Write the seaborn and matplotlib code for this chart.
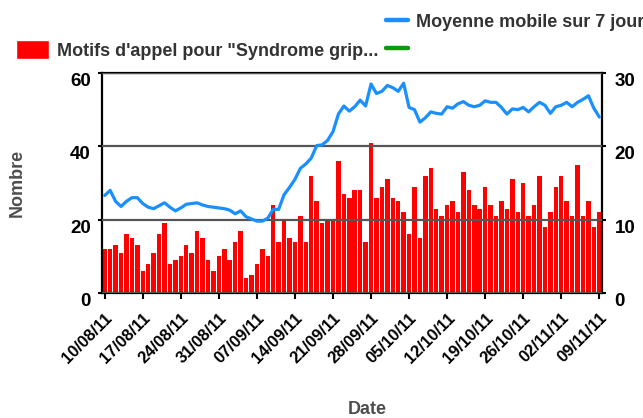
import pandas as pd
import seaborn as sns
import matplotlib.pyplot as plt
from matplotlib.patches import Patch
from matplotlib.lines import Line2D

# Donnees journalieres du 10/08/11 au 09/11/11
motifs = [12, 12, 13, 11, 16, 15, 13, 6, 8, 11,
          16, 19, 8, 9, 10, 13, 11, 17, 15, 9,
          6, 10, 12, 9, 14, 17, 4, 5, 8, 12,
          10, 24, 14, 20, 15, 14, 21, 14, 32, 25,
          19, 20, 20, 36, 27, 26, 28, 28, 14, 41,
          26, 29, 31, 26, 25, 22, 16, 29, 15, 32,
          34, 23, 21, 24, 25, 22, 33, 28, 24, 23,
          29, 24, 21, 25, 23, 31, 22, 30, 21, 24,
          32, 18, 22, 29, 32, 25, 21, 35, 21, 25,
          18, 22]

moyenne_7j = [13.3, 14.0, 12.5, 11.8, 12.5, 13.0, 13.0, 12.2, 11.7, 11.5,
              11.9, 12.3, 11.7, 11.2, 11.6, 12.1, 12.2, 12.3, 12.0, 11.8,
              11.7, 11.6, 11.5, 11.3, 10.8, 11.2, 10.4, 10.1, 9.8, 9.8,
              10.2, 11.4, 11.4, 13.4, 14.4, 15.5, 17.0, 17.6, 18.4, 20.1,
              20.2, 20.8, 22.0, 24.4, 25.5, 24.8, 25.4, 26.3, 25.5, 28.5,
              27.2, 27.5, 28.3, 28.0, 27.5, 28.6, 25.3, 25.0, 23.3, 23.9,
              24.7, 24.5, 24.4, 25.4, 25.2, 25.8, 26.1, 25.6, 25.4, 25.6,
              26.2, 26.0, 26.0, 25.3, 24.4, 25.1, 25.0, 25.3, 24.7, 25.4,
              26.0, 25.6, 24.5, 25.4, 25.6, 26.0, 25.4, 26.0, 26.4, 26.9,
              25.2, 24.0]

jours = pd.date_range('2011-08-10', periods=len(motifs), freq='D')
df = pd.DataFrame({'Date': jours.strftime('%d/%m/%y'),
                   'pos': range(len(motifs)),
                   'Nombre': motifs,
                   'Moyenne': moyenne_7j})

sns.set_style('white')
plt.rcParams['font.family'] = ['Liberation Sans', 'DejaVu Sans']
plt.rcParams['font.weight'] = 'bold'
plt.rcParams['axes.labelweight'] = 'bold'

ROUGE = '#ff0000'
BLEU = '#1a8fff'
VERT = '#0a9a0a'

fig = plt.figure(figsize=(6.43, 4.18), dpi=100)
ax = fig.add_axes([102 / 643, 1 - 293 / 418, 500 / 643, 220 / 418])

sns.barplot(data=df, x='Date', y='Nombre', color=ROUGE, saturation=1,
            width=0.82, linewidth=0, errorbar=None, ax=ax)

ax2 = ax.twinx()
sns.lineplot(data=df, x='pos', y='Moyenne', color=BLEU, lw=2.3, ax=ax2)

ax.set_xlim(-0.5, len(motifs) - 0.5)
ax.set_ylim(0, 60)
ax2.set_ylim(0, 30)
ax.set_yticks([0, 20, 40, 60])
ax2.set_yticks([0, 10, 20, 30])

semaines = list(range(0, len(motifs), 7))
ax.set_xticks(semaines)
ax.set_xticklabels(df['Date'].iloc[semaines], rotation=45, ha='right',
                   rotation_mode='anchor', fontsize=12)

# grille par dessus les barres
ax.set_axisbelow(False)
ax.yaxis.grid(True, color='#555555', lw=1.6)
ax.xaxis.grid(False)

for s in ax.spines.values():
    s.set_color('black')
    s.set_linewidth(1.6)
for s in ax2.spines.values():
    s.set_visible(False)

ax.tick_params(axis='x', bottom=True, length=4, width=1.5, pad=8.5, colors='black')
ax.tick_params(axis='y', left=True, length=3, width=1.5, pad=5, labelsize=13.5, colors='black')
ax2.tick_params(axis='y', right=True, length=3, width=1.5, pad=6, labelsize=13.5, colors='black')

ax.set_xlabel('Date', fontsize=13, color='#4d4d4d')
ax.set_ylabel('Nombre', fontsize=13, color='#4d4d4d')
ax2.set_ylabel('')
ax.xaxis.set_label_coords((367 - 102) / 500, -0.49)
ax.yaxis.set_label_coords(-0.152, 0.5)

for lbl in ax.get_yticklabels() + ax2.get_yticklabels():
    lbl.set_va('top')

# legende en haut, facon capture d'origine (texte tronque)
fig.legend(handles=[Patch(facecolor=ROUGE)],
           labels=['Motifs d\'appel pour "Syndrome grip...'],
           loc='center left', bbox_to_anchor=(16 / 643, 1 - 50 / 418),
           frameon=False, fontsize=13, labelcolor='#333333',
           handlelength=1.83, handleheight=1.17, handletextpad=0.44,
           borderpad=0, borderaxespad=0)
fig.legend(handles=[Line2D([], [], color=BLEU, lw=3.2),
                    Line2D([], [], color=VERT, lw=3.2)],
           labels=['Moyenne mobile sur 7 jours', ' '],
           loc='center left', bbox_to_anchor=(386 / 643, 1 - 36 / 418),
           frameon=False, fontsize=13, labelcolor='#333333',
           handlelength=1.22, handletextpad=0.44, labelspacing=0.6,
           borderpad=0, borderaxespad=0)

fig.savefig('out.png', dpi=100)
